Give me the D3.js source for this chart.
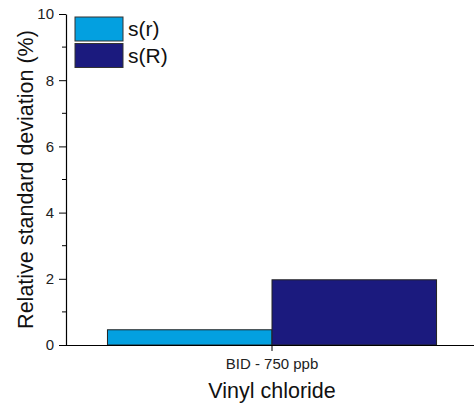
<!DOCTYPE html>
<html>
<head>
<meta charset="utf-8">
<script src="https://cdn.jsdelivr.net/npm/d3@7"></script>
<style>
  body { margin: 0; background: #fff; }
  svg { font-family: "Liberation Sans", Arial, sans-serif; }
</style>
</head>
<body>
<div class="container"></div>
<script>
const categories = ['BID - 750 ppb'];
const seriesNames = ['s(r)', 's(R)'];
const sr = [0.46];
const sR = [1.97];
const colors = ['#03a0e0', '#1b1a7e'];
const yTicks = [0, 2, 4, 6, 8, 10];

const width = 474;
const height = 407;
const margin = {left: 66, top: 14, bottom: 62};

const svg = d3.select('.container')
  .append('svg')
  .attr('width', width)
  .attr('height', height);

const y = d3.scaleLinear().domain([0, 10]).range([height - margin.bottom, margin.top]);
const x = d3.scaleBand().domain(categories).range([margin.left, 478]).paddingInner(0).paddingOuter(0.126);
const xs = d3.scaleBand().domain(seriesNames).range([0, x.bandwidth()]);

// bars
const rows = categories.map((c, i) => ({cat: c, vals: [sr[i], sR[i]]}));
const g = svg.append('g');
rows.forEach(r => {
  r.vals.forEach((v, j) => {
    g.append('rect')
      .attr('x', x(r.cat) + xs(seriesNames[j]))
      .attr('y', y(v))
      .attr('width', xs.bandwidth())
      .attr('height', y(0) - y(v))
      .attr('fill', colors[j])
      .attr('stroke', '#222')
      .attr('stroke-width', 1);
  });
});

// y axis
const yAxis = svg.append('g')
  .attr('transform', `translate(${margin.left},0)`)
  .call(d3.axisLeft(y).tickValues(yTicks).tickSize(7).tickSizeOuter(0).tickPadding(5));
yAxis.select('.domain').attr('stroke', '#000').attr('stroke-width', 1.2);
yAxis.selectAll('text').attr('font-size', 15).attr('fill', '#222');
// minor ticks
yAxis.selectAll('.minor').data([1, 3, 5, 7, 9]).enter()
  .append('line')
  .attr('x1', -4).attr('x2', 0)
  .attr('y1', d => y(d)).attr('y2', d => y(d))
  .attr('stroke', '#000');

// x axis
const xAxis = svg.append('g')
  .attr('transform', `translate(0,${y(0)})`)
  .call(d3.axisBottom(x).tickSize(6).tickSizeOuter(0).tickPadding(7));
xAxis.select('.domain').attr('d', `M${margin.left - 4},0.5H${width}`).attr('stroke', '#000').attr('stroke-width', 1.2);
xAxis.selectAll('text').attr('font-size', 15).attr('fill', '#222');

// axis titles
svg.append('text')
  .attr('transform', `translate(33,${(y(0) + y(10)) / 2}) rotate(-90)`)
  .attr('text-anchor', 'middle')
  .attr('font-size', 21.5)
  .attr('fill', '#111')
  .text('Relative standard deviation (%)');

svg.append('text')
  .attr('x', x(categories[0]) + x.bandwidth() / 2)
  .attr('y', 398)
  .attr('text-anchor', 'middle')
  .attr('font-size', 21.5)
  .attr('fill', '#111')
  .text('Vinyl chloride');

// legend
const legend = svg.append('g').attr('transform', 'translate(75,17)');
seriesNames.forEach((s, i) => {
  legend.append('rect')
    .attr('x', 0).attr('y', i * 26.5)
    .attr('width', 48).attr('height', 24)
    .attr('fill', colors[i])
    .attr('stroke', '#333');
  legend.append('text')
    .attr('x', 53).attr('y', i * 26.5 + 19)
    .attr('font-size', 21)
    .attr('fill', '#111')
    .text(s);
});
</script>
</body>
</html>
